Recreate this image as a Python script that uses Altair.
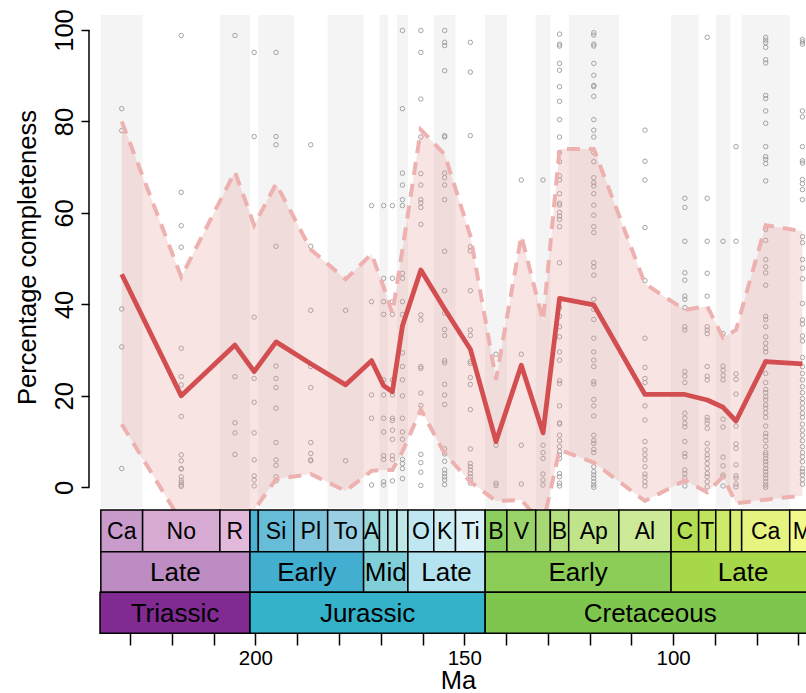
import altair as alt
import pandas as pd

FONT = "Liberation Sans"

# ---------------- geologic time scale ----------------
stage_names = ["Carnian", "Norian", "Rhaetian", "Hettangian", "Sinemurian", "Pliensbachian",
               "Toarcian", "Aalenian", "Bajocian", "Bathonian", "Callovian", "Oxfordian",
               "Kimmeridgian", "Tithonian", "Berriasian", "Valanginian", "Hauterivian",
               "Barremian", "Aptian", "Albian", "Cenomanian", "Turonian", "Coniacian",
               "Santonian", "Campanian", "Maastrichtian"]
stage_start = [237, 227, 208.5, 201.3, 199.3, 190.8, 182.7, 174.1, 170.3, 168.3, 166.1, 163.5,
               157.3, 152.1, 145, 139.8, 132.9, 129.4, 125, 113, 100.5, 93.9, 89.8, 86.3, 83.6, 72.1]
stage_end = [227, 208.5, 201.3, 199.3, 190.8, 182.7, 174.1, 170.3, 168.3, 166.1, 163.5, 157.3,
             152.1, 145, 139.8, 132.9, 129.4, 125, 113, 100.5, 93.9, 89.8, 86.3, 83.6, 72.1, 66]
stage_abbr = ["Ca", "No", "R", "", "Si", "Pl", "To", "A", "", "", "", "O", "K", "Ti", "B", "V", "",
              "B", "Ap", "Al", "C", "T", "", "", "Ca", "M"]
stage_colors = ["#C99BCB", "#D6AAD3", "#E3B9DB", "#4EB3D3", "#67BCD8", "#80C5DD", "#99CEE3",
                "#9AD9DD", "#A6DDE0", "#B3E2E3", "#BFE7E5", "#BFE7F1", "#CCECF4", "#D9F1F7",
                "#8CCD60", "#99D36A", "#A6D975", "#B3DF7F", "#BFE48A", "#CCEA97", "#B3DE53",
                "#BFE35D", "#CCE968", "#D9EF74", "#E6F47F", "#F2FA8C"]

series_start = [237, 201.3, 174.1, 163.5, 145, 100.5]
series_end = [201.3, 174.1, 163.5, 145, 100.5, 66]
series_abbr = ["Late", "Early", "Mid", "Late", "Early", "Late"]
series_colors = ["#BD8CC3", "#42AED0", "#80CFD8", "#B3E3EE", "#8CCD57", "#A6D84A"]

period_names = ["Triassic", "Jurassic", "Cretaceous"]
period_start = [251.9, 201.3, 145]
period_end = [201.3, 145, 66]
period_colors = ["#812B92", "#34B2C9", "#7FC64E"]

# ---------------- completeness per stage ----------------
mean_vals = [46.6, 20.0, 31.1, 25.3, 31.8, 27.0, 22.4, 27.7, 22.2, 20.9, 35.3, 47.5, 39.0,
             30.2, 10.0, 26.7, 11.9, 41.3, 39.9, 20.3, 20.3, 19.1, 17.5, 14.5, 27.5, 27.0]
upper_vals = [80.0, 46.0, 69.0, 57.3, 66.4, 52.0, 45.5, 51.0, 43.8, 38.0, 52.0, 78.2, 72.8,
              55.0, 23.5, 55.0, 36.4, 74.0, 74.0, 44.5, 38.8, 39.6, 32.7, 34.4, 57.3, 56.0]
lower_vals = [13.8, -7.5, -8.0, -5.0, 1.8, 2.9, -0.8, 3.6, 3.8, 3.8, 7.8, 17.0, 7.4,
              1.2, -3.0, -2.8, -8.0, 8.2, 5.4, -3.0, 1.5, -1.1, 2.3, -3.5, -2.7, -1.8]

points_by_stage = [
    [82.8, 78.0, 39.0, 30.7, 4.1],
    [98.8, 64.5, 57.2, 52.5, 30.4, 24.2, 22.4, 15.5, 7.1, 5.8, 4.1, 4.0, 2.3, 1.5, 1.0, 0.5, 0.2],
    [98.8, 24.2, 14.1, 11.9, 7.2],
    [95.1, 76.7, 37.2, 23.8, 18.6, 11.9, 6.0, 2.5, 1.6, 0.3],
    [95.1, 76.7, 74.9, 52.7, 26.5, 23.8, 21.8, 17.3, 9.8, 6.0, 4.8, 2.3, 1.4],
    [74.9, 52.7, 38.7, 26.4, 21.8, 9.8, 7.4, 6.0, 5.8],
    [38.7, 5.8],
    [61.6, 40.6, 20.2, 15.1, 0.5],
    [61.6, 45.7, 40.6, 37.8, 23.5, 20.2, 15.1, 12.1, 6.9, 6.1, 1.2, 0.5],
    [61.6, 45.7, 40.6, 37.8, 23.5, 20.2, 15.1, 14.6, 12.5, 10.5, 6.9, 6.1, 1.4],
    [99.9, 82.8, 68.7, 66.1, 62.9, 61.6, 46.8, 45.7, 40.6, 37.8, 29.4, 26.4, 23.5, 20.0, 15.1,
     12.1, 10.5, 6.1, 5.2, 4.1, 1.9],
    [99.9, 95.1, 84.9, 76.6, 68.6, 66.1, 62.9, 62.2, 61.2, 57.5, 37.7, 36.6, 26.4, 26.0, 20.6,
     17.9, 7.2, 5.4, 3.3, 0.4],
    [99.9, 97.3, 96.6, 91.1, 76.9, 76.6, 68.7, 67.7, 66.1, 62.9, 51.6, 43.0, 38.1, 34.5, 33.2,
     27.7, 27.2, 22.5, 20.2, 18.1, 8.4, 7.3, 5.7, 3.8, 3.0, 2.3, 1.6, 0.6],
    [97.3, 90.8, 76.9, 52.6, 51.7, 43.0, 34.4, 33.2, 27.5, 27.1, 24.0, 22.5, 17.0, 8.4, 5.2,
     4.5, 3.8, 3.0, 2.3, 1.6, 0.9],
    [29.1, 10.2, 9.2, 0.9, 0.4],
    [67.2, 29.1, 9.2, 0.7],
    [67.2, 9.2, 7.6, 6.3, 2.9, 1.6, 0.5],
    [99.1, 96.9, 96.5, 92.7, 91.2, 87.6, 84.4, 80.4, 76.6, 73.2, 71.2, 68.1, 67.2, 64.2, 62.1,
     61.7, 60.1, 59.3, 58.6, 57.0, 49.1, 39.3, 37.4, 35.1, 32.9, 29.6, 27.8, 23.3, 22.7, 17.8,
     14.1, 13.8, 11.4, 10.2, 8.9, 7.8, 7.1, 6.3, 3.0, 2.3, 0.9, 0.3],
    [99.4, 98.9, 96.9, 96.5, 92.7, 90.1, 87.9, 87.6, 85.5, 80.4, 78.1, 76.6, 73.2, 71.2, 67.7,
     66.6, 65.9, 64.2, 61.7, 59.5, 57.0, 55.7, 49.1, 48.2, 46.4, 41.1, 38.9, 36.7, 32.6, 29.6,
     27.8, 26.4, 23.1, 22.6, 19.2, 17.8, 15.6, 11.4, 10.2, 9.6, 8.3, 7.6, 4.5, 3.4, 2.7, 2.0,
     1.2, 0.5, 0.0],
    [78.1, 71.3, 67.2, 56.8, 45.2, 32.6, 26.2, 23.8, 22.9, 17.8, 14.7, 10.0, 8.2, 7.1, 6.0,
     4.5, 2.9, 2.2, 1.2, 0.3],
    [63.2, 61.2, 53.8, 46.9, 45.3, 41.8, 41.1, 39.3, 35.1, 34.4, 25.3, 24.3, 22.9, 16.2, 15.1,
     14.0, 13.2, 10.0, 7.4, 6.7, 3.8, 3.0, 2.0, 0.3],
    [98.4, 63.2, 53.8, 46.8, 41.8, 35.1, 34.4, 33.6, 26.4, 24.3, 23.5, 15.3, 14.7, 14.0, 12.9,
     9.6, 8.2, 7.1, 6.3, 5.2, 4.1, 3.0, 2.3, 1.2, 0.1],
    [53.8, 33.6, 26.5, 25.6, 24.5, 23.5, 14.9, 13.2, 6.6, 4.7, 2.7, 2.3, 0.3],
    [74.5, 53.8, 24.8, 23.6, 20.4, 13.4, 9.5, 8.5, 4.9, 2.5, 2.0, 0.7, 0.1],
    [98.4, 97.8, 97.2, 96.2, 93.5, 92.8, 85.7, 85.0, 82.3, 79.6, 74.5, 72.3, 71.7, 70.8, 67.0,
     56.4, 54.0, 49.8, 48.2, 46.9, 44.2, 37.4, 36.7, 35.1, 32.9, 31.5, 30.4, 29.6, 27.5, 24.9,
     22.9, 21.4, 20.7, 19.8, 19.1, 18.0, 17.3, 16.3, 15.3, 13.4, 11.8, 11.1, 10.2, 8.9, 7.6,
     7.1, 6.3, 5.6, 4.9, 4.1, 3.4, 2.7, 2.0, 1.2, 0.5, 0.0],
    [97.9, 97.4, 96.9, 82.3, 81.0, 74.5, 71.4, 70.9, 67.3, 66.4, 65.1, 62.9, 54.8, 53.5, 49.8,
     47.9, 45.6, 40.2, 36.6, 35.7, 33.1, 32.0, 28.4, 26.4, 24.9, 23.5, 22.0, 20.7, 19.4, 18.4,
     17.3, 16.2, 15.3, 13.8, 12.5, 11.4, 10.2, 8.9, 7.6, 6.7, 5.6, 4.1, 3.4, 2.7, 1.7, 0.7],
]

# ---------------- layout constants ----------------
X_LEFT, X_RIGHT = 237.2, 68.2
PLOT_W, PLOT_H = 706, 618
PANEL_BOTTOM = 493            # pixel bottom of the data panel
ROWS = [(495, 536.7), (536.7, 577.3), (577.3, 618.3)]

xscale = alt.Scale(domain=[X_LEFT, X_RIGHT], nice=False, zero=False)
yscale = alt.Scale(domain=[-31.86, 103.28], nice=False, zero=False)


def clipped(a):
    return min(a, X_LEFT)


stages = pd.DataFrame({
    "name": stage_names,
    "start": [clipped(s) for s in stage_start],
    "end": stage_end,
    "abbr": stage_abbr,
    "color": stage_colors,
})
stages["mid"] = (stages["start"] + stages["end"]) / 2
stages["band"] = [i % 2 == 0 for i in range(len(stages))]

series = pd.DataFrame({
    "start": [clipped(s) for s in series_start],
    "end": series_end,
    "abbr": series_abbr,
    "color": series_colors,
})
series["mid"] = (series["start"] + series["end"]) / 2

periods = pd.DataFrame({
    "start": [clipped(s) for s in period_start],
    "end": period_end,
    "abbr": period_names,
    "color": period_colors,
})
periods["mid"] = (periods["start"] + periods["end"]) / 2

stage_mid_true = [(a + b) / 2 for a, b in zip(stage_start, stage_end)]
summary = pd.DataFrame({"Ma": stage_mid_true, "mean": mean_vals,
                        "upper": upper_vals, "lower": lower_vals})

pts = pd.DataFrame([{"Ma": stage_mid_true[i], "value": v}
                    for i, vals in enumerate(points_by_stage) for v in vals])

xaxis = alt.Axis(values=list(range(230, 60, -10)),
                 labelExpr="datum.value % 50 == 0 ? datum.label : ''",
                 title="Ma", titleX=358, titleY=55, titleBaseline="alphabetic",
                 titleAlign="center", titleFontSize=25.5, titleFontWeight="normal",
                 titleFont=FONT, titleColor="black",
                 labelFont=FONT, labelFontSize=20.5, labelColor="black",
                 labelBaseline="alphabetic", labelPadding=19,
                 labelFlush=False, labelOverlap=False,
                 tickSize=12, tickWidth=1.5, tickColor="black",
                 domain=False, grid=False, zindex=1)

yaxis = alt.Axis(values=[0, 20, 40, 60, 80, 100], offset=11, domain=False,
                 tickSize=8, tickWidth=1.5, tickColor="black",
                 labelAngle=270, labelFontSize=25.5, labelFont=FONT, labelColor="black",
                 labelPadding=4,
                 title="Percentage completeness", titleFontSize=25.5, titleFont=FONT,
                 titleFontWeight="normal", titleColor="black", titleAngle=270,
                 titleX=-54, titleY=242, titleBaseline="alphabetic", titleAlign="center",
                 grid=False, zindex=1)


def X(field):
    return alt.X(field, scale=xscale, axis=xaxis)


def Y(field):
    return alt.Y(field, scale=yscale, axis=yaxis)


bands = alt.Chart(stages[stages["band"]]).mark_rect(color="#F4F4F4").encode(
    x=X("start:Q"),
    x2="end:Q",
    y=alt.value(0),
    y2=alt.value(PANEL_BOTTOM),
)

points = alt.Chart(pts).mark_point(shape="circle", filled=False, size=20,
                                   strokeWidth=0.9, color="#9A9A9A", opacity=1).encode(
    x=X("Ma:Q"),
    y=Y("value:Q"),
)

ribbon = alt.Chart(summary).mark_area(color="#E89C9C", opacity=0.27).encode(
    x=X("Ma:Q"),
    y=Y("lower:Q"),
    y2="upper:Q",
)

upper_line = alt.Chart(summary).mark_line(color="#EDB2B0", strokeWidth=4,
                                          strokeDash=[13, 9]).encode(
    x=X("Ma:Q"),
    y=Y("upper:Q"),
)
lower_line = alt.Chart(summary).mark_line(color="#EDB2B0", strokeWidth=4,
                                          strokeDash=[13, 9]).encode(
    x=X("Ma:Q"),
    y=Y("lower:Q"),
)
mean_line = alt.Chart(summary).mark_line(color="#D24E50", strokeWidth=4.8,
                                         strokeJoin="round").encode(
    x=X("Ma:Q"),
    y=Y("mean:Q"),
)


def scale_row(df, row, size):
    top, bottom = ROWS[row]
    rect = alt.Chart(df).mark_rect(stroke="black", strokeWidth=1.5).encode(
        x=X("start:Q"),
        x2="end:Q",
        y=alt.value(top),
        y2=alt.value(bottom),
        color=alt.Color("color:N", scale=None),
    )
    text = alt.Chart(df).mark_text(font=FONT, fontSize=size, color="black",
                                   align="center", baseline="middle").encode(
        x=X("mid:Q"),
        y=alt.value((top + bottom) / 2 + 1),
        text="abbr:N",
    )
    return [rect, text]


yline = alt.Chart(pd.DataFrame({"a": [0], "b": [100]})).mark_rule(
    color="black", strokeWidth=1.5).encode(
    x=alt.value(-11),
    y=Y("a:Q"),
    y2="b:Q",
)

layers = [bands, points, ribbon, upper_line, lower_line, mean_line]
layers += scale_row(stages, 0, 23)
layers += scale_row(series, 1, 26)
layers += scale_row(periods, 2, 26)
layers += [yline]

chart = alt.layer(*layers).properties(
    width=PLOT_W,
    height=PLOT_H,
    padding={"left": 100, "top": 15, "right": 0, "bottom": 60},
    autosize=alt.AutoSizeParams(type="none"),
    background="white",
).configure_view(stroke=None).configure_axis(grid=False)

chart.save("out.html", embed_options={"renderer": "svg", "actions": False})
